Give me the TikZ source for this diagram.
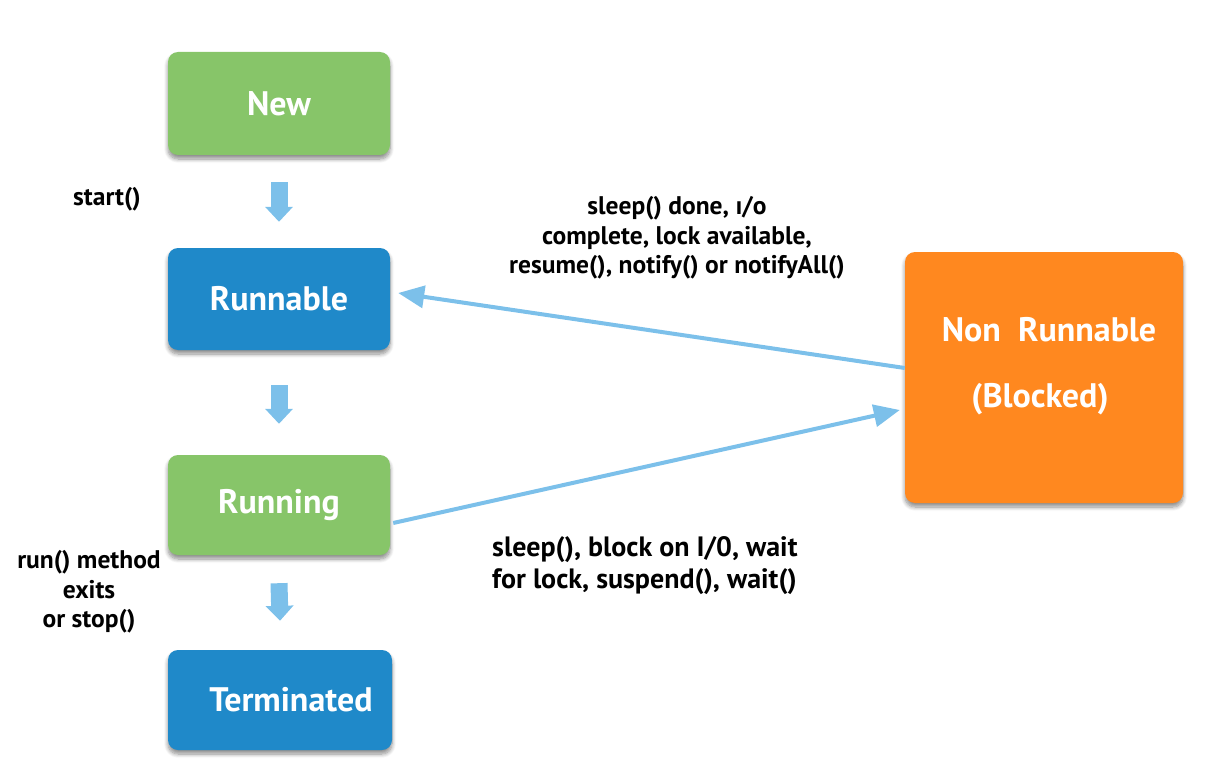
\documentclass[tikz,border=0pt]{standalone}
\usepackage{fontspec}
\setmainfont{PT Sans}
\usetikzlibrary{arrows.meta,shadows.blur}
\definecolor{stategreen}{HTML}{87C569}
\definecolor{stateblue}{HTML}{1F89C9}
\definecolor{stateorange}{HTML}{FF881F}
\definecolor{flowblue}{HTML}{7CC0EA}
\tikzset{
  state/.style={rounded corners=10pt, inner sep=0pt, text=white,
    font=\bfseries\fontsize{34}{40}\selectfont,
    blur shadow={shadow xshift=0pt, shadow yshift=-4pt, shadow blur radius=4pt,
      shadow blur steps=8, shadow opacity=45}},
  statetext/.style={font=\bfseries\fontsize{34}{40}\selectfont, text=white, inner sep=0pt},
  stepflow/.style={draw=flowblue, line width=17pt,
    -{Triangle[width=27pt, length=15pt]}},
  transition/.style={draw=flowblue, line width=4pt,
    -{Triangle[width=22pt, length=26pt]}},
  note/.style={align=center, font=\bfseries\fontsize{25.5}{29.5}\selectfont, inner sep=0pt},
  bignote/.style={align=left, font=\bfseries\fontsize{28}{32}\selectfont, inner sep=0pt}
}
\begin{document}
\begin{tikzpicture}[x=1pt, y=-1pt]
  \useasboundingbox (0,0) rectangle (1218,781);

  % life-cycle states
  \node[state, fill=stategreen, minimum width=222pt, minimum height=103pt] (new) at (279,103.5) {New};
  \node[state, fill=stateblue, minimum width=222pt, minimum height=102pt] (runnable) at (279,299) {Runnable};
  \node[state, fill=stategreen, minimum width=222pt, minimum height=100pt] (running) at (279,505) {Running};
  \node[state, fill=stateblue, minimum width=224pt, minimum height=100pt] (terminated) at (280,700) {\kern22pt Terminated};
  \node[state, fill=stateorange, minimum width=278pt, minimum height=251pt] (blocked) at (1044,377.5) {};
  \node[statetext] (blockedA) at (1049,330) {Non\ \ Runnable};
  \node[statetext] (blockedB) at (1040,399) {(Blocked)};

  % forward steps
  \draw[stepflow] ([yshift=-27pt]new.south) -- ([yshift=26pt]runnable.north);
  \draw[stepflow] ([yshift=-35pt]runnable.south) -- ([yshift=31pt]running.north);
  \draw[stepflow] ([yshift=-28pt]running.south) -- ([yshift=29pt]terminated.north);

  % transitions to and from the blocked state
  \draw[transition] ([yshift=9.5pt]blocked.west) -- ([xshift=8pt,yshift=6pt]runnable.east);
  \draw[transition] ([yshift=-18pt,xshift=3pt]running.east) -- ([xshift=-5pt,yshift=-32.5pt]blocked.west);

  % labels
  \node[note] (lstart) at (107,199) {start()};
  \node[note] (lwake) at (677,238) {sleep() done, ı/o\\complete, lock available,\\resume(), notify() or notifyAll()};
  \node[bignote, anchor=west] (lblock) at (492,566) {sleep(), block on I/0, wait\\for lock, suspend(), wait()};
  \node[note] (lexit) at (89,592) {run() method\\exits\\or stop()};
\end{tikzpicture}
\end{document}
